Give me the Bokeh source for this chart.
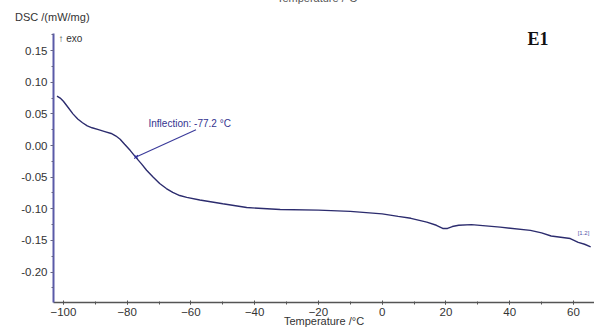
from bokeh.plotting import figure
from bokeh.models import Range1d, Label, FixedTicker, CustomJSTickFormatter, Div
from bokeh.layouts import column
from bokeh.embed import file_html
from bokeh.resources import INLINE

temp = [-102, -101, -100, -98.5, -97, -95.5, -94, -92.5, -91, -89, -87, -85, -83.5, -82.2,
        -80.8, -79, -77.4, -75.5, -73.9, -71.8, -69.8, -67.7, -65.7, -63.5, -61.3, -57.2,
        -50, -42.5, -32, -20, -10, -5, 0, 5, 9, 14, 17, 19, 20.5, 22, 24, 28, 37, 46.5,
        50, 53, 56, 59, 61.5, 63.5, 65.4]
dsc = [0.078, 0.075, 0.070, 0.060, 0.050, 0.042, 0.036, 0.031, 0.028, 0.025, 0.022, 0.019,
       0.015, 0.010, 0.002, -0.008, -0.018, -0.029, -0.039, -0.050, -0.060, -0.068, -0.074,
       -0.079, -0.082, -0.086, -0.092, -0.098, -0.101, -0.102, -0.104, -0.106, -0.108,
       -0.112, -0.115, -0.121, -0.126, -0.131, -0.131, -0.128, -0.126, -0.125, -0.129,
       -0.134, -0.138, -0.143, -0.145, -0.147, -0.153, -0.156, -0.160]
x_ticks = [-100, -80, -60, -40, -20, 0, 20, 40, 60]
y_ticks = [-0.20, -0.15, -0.10, -0.05, 0.00, 0.05, 0.10, 0.15]
inflection_t = -77.2
inflection_v = -0.018

FONT = "Liberation Sans"

# ---- header strip (texts above the plot area) ----
header_html = (
    '<div style="position:relative;width:594px;height:25px;overflow:hidden;'
    'font-family:\'Liberation Sans\',sans-serif;color:#333333;">'
    '<span style="position:absolute;left:15px;top:11px;font-size:11px;line-height:13px;'
    'white-space:nowrap;">DSC /(mW/mg)</span>'
    '<span style="position:absolute;left:317px;top:-8px;transform:translateX(-50%);'
    'font-size:11px;line-height:13px;color:#555555;white-space:nowrap;">Temperature /°C</span>'
    '</div>'
)
head = Div(text=header_html, width=594, height=25, margin=(0, 0, 0, 0))

# ---- main plot ----
p = figure(width=594, height=304, output_backend="svg", toolbar_location=None,
           x_range=Range1d(-103.1, 66.6), y_range=Range1d(-0.248, 0.1896),
           min_border_left=53, min_border_right=0, min_border_top=0, min_border_bottom=27)
p.outline_line_color = None
p.xgrid.grid_line_color = None
p.ygrid.grid_line_color = None
p.background_fill_color = "white"

p.line(temp, dsc, line_color="#2c2c6e", line_width=1.4)

# inflection marker and leader
p.scatter([inflection_t], [inflection_v], marker="x", size=5, line_color="#2c2c9a", line_width=1.2)
p.segment(x0=[inflection_t], y0=[inflection_v], x1=[-58.4], y1=[0.025],
          line_color="#3a3a9a", line_width=1.1)
p.add_layout(Label(x=-73.3, y=0.0347, text="Inflection: -77.2 °C", text_font=FONT,
                   text_font_size="10px", text_color="#33338f", text_baseline="middle",
                   text_align="left"))

# x axis
xa = p.xaxis[0]
xa.ticker = FixedTicker(ticks=x_ticks, minor_ticks=list(range(-100, 70, 10)))
xa.axis_line_color = "#555555"
xa.axis_line_width = 1.5
xa.major_tick_line_color = "#555555"
xa.minor_tick_line_color = "#555555"
xa.major_tick_in = 2
xa.major_tick_out = 2
xa.minor_tick_in = 1
xa.minor_tick_out = 2
xa.major_label_text_font = FONT
xa.major_label_text_font_size = "11.5px"
xa.major_label_text_color = "#333333"
xa.major_label_standoff = 3
xa.axis_label = "Temperature /°C"
xa.axis_label_text_font = FONT
xa.axis_label_text_font_size = "11px"
xa.axis_label_text_font_style = "normal"
xa.axis_label_text_color = "#333333"
xa.axis_label_standoff = -4

# y axis (line stops at the top of the data range, like the reference)
ya = p.yaxis[0]
ya.bounds = (-0.248, 0.177)
ya.ticker = FixedTicker(ticks=y_ticks, minor_ticks=[v / 1000 for v in range(-225, 176, 25)])
ya.formatter = CustomJSTickFormatter(code="return tick.toFixed(2);")
ya.axis_line_color = "#5a5aa8"
ya.axis_line_width = 2
ya.major_tick_line_color = "#666688"
ya.minor_tick_line_color = "#666688"
ya.major_tick_in = 0
ya.major_tick_out = 3
ya.minor_tick_in = 0
ya.minor_tick_out = 2
ya.major_label_text_font = FONT
ya.major_label_text_font_size = "11.5px"
ya.major_label_text_color = "#333333"
ya.major_label_standoff = 3

# texts inside the frame (screen units: x from frame left, y from frame bottom)
def lab(x, y, text, **kw):
    opts = dict(text_font=FONT, text_font_size="11px", text_color="#333333",
                text_baseline="middle", text_align="left")
    opts.update(kw)
    p.add_layout(Label(x=x, y=y, x_units="screen", y_units="screen", text=text, **opts))

lab(5, 264, "↑ exo", text_font_size="10px")
lab(474, 264, "E1", text_font="Liberation Serif", text_font_size="18px",
    text_font_style="bold", text_color="#111111")
lab(530, 70, "[1.2]", text_font_size="6px", text_color="#5555aa", text_align="center")

layout = column(head, p, spacing=0)
open("out.html", "w").write(file_html(layout, INLINE))
